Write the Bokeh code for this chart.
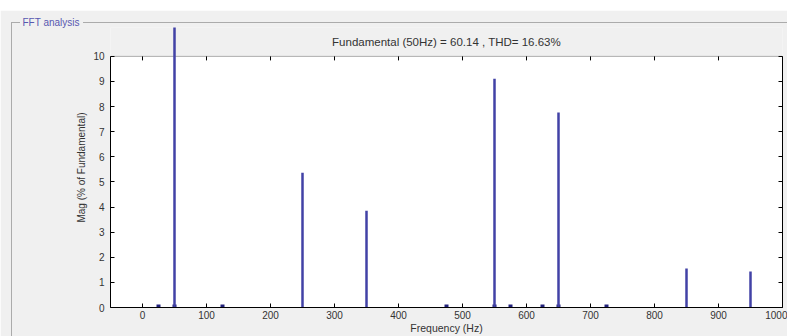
from bokeh.plotting import figure
from bokeh.models import Range1d, LinearAxis, FixedTicker, BoxAnnotation, Label, InlineStyleSheet
from bokeh.embed import file_html
from bokeh.resources import INLINE

# ---- data ----
freq_main = [50, 250, 350, 550, 650, 850, 950]
mag_main = [100.0, 5.37, 3.85, 9.11, 7.77, 1.55, 1.43]
freq_small = [25, 50, 125, 475, 550, 575, 625, 650, 725]
mag_small = [0.12, 0.12, 0.12, 0.12, 0.12, 0.12, 0.12, 0.12, 0.12]
x_ticks = [0, 100, 200, 300, 400, 500, 600, 700, 800, 900, 1000]
y_ticks = [0, 1, 2, 3, 4, 5, 6, 7, 8, 9, 10]
title_text = "Fundamental (50Hz) = 60.14 , THD= 16.63%"
panel_text = "FFT analysis"
x_label = "Frequency (Hz)"
y_label = "Mag (% of Fundamental)"

GRAY = "#f0f0f0"
BAR = "#4242a6"
FONT = "Liberation Sans"
TXT = "#333333"

css = """
:host { position: relative; }
:host::before { content: ""; position: absolute; left: 11px; top: 12px; width: 8px; bottom: 0;
  border-top: 1px solid #ababab; border-left: 1px solid #ababab; z-index: 5; pointer-events: none; }
:host::after { content: ""; position: absolute; left: 83px; top: 12px; right: 0; height: 0;
  border-top: 1px solid #ababab; z-index: 5; pointer-events: none; }
"""

p = figure(width=787, height=326, x_range=Range1d(-50, 1000), y_range=Range1d(0, 11.15),
           output_backend="svg", toolbar_location=None,
           min_border_left=110, min_border_right=5, min_border_top=17, min_border_bottom=28)
p.margin = (10, 0, 0, 0)
p.stylesheets = [InlineStyleSheet(css=css)]
p.border_fill_color = GRAY
p.background_fill_color = GRAY
p.outline_line_color = None
p.grid.visible = False

# group-box caption
p.title.text = panel_text
p.title.align = "left"
p.title.offset = -88
p.title.standoff = 0
p.title.text_font = FONT
p.title.text_font_size = "10px"
p.title.text_font_style = "normal"
p.title.text_color = "#5858b0"

# white plot box from 0..10
p.add_layout(BoxAnnotation(left=-50, right=1000, bottom=0, top=10, fill_color="white",
                           fill_alpha=1, line_color="black", line_width=1, level="underlay"))

# axes
xa = p.xaxis[0]
xa.ticker = FixedTicker(ticks=x_ticks)
xa.minor_tick_line_color = None
xa.major_tick_in = 4
xa.major_tick_out = 0
xa.major_label_standoff = 3
xa.axis_label = x_label
xa.axis_label_standoff = 0
xa.axis_label_text_font = FONT
xa.axis_label_text_font_style = "normal"
xa.axis_label_text_font_size = "10.5px"
xa.axis_label_text_color = TXT
xa.major_label_text_font = FONT
xa.major_label_text_font_size = "10px"
xa.major_label_text_color = TXT

ya = p.yaxis[0]
ya.ticker = FixedTicker(ticks=y_ticks)
ya.bounds = (0, 10)
ya.minor_tick_line_color = None
ya.major_tick_in = 4
ya.major_tick_out = 0
ya.major_label_standoff = 6
ya.axis_label = y_label
ya.axis_label_standoff = 3
ya.axis_label_text_font = FONT
ya.axis_label_text_font_style = "normal"
ya.axis_label_text_font_size = "10px"
ya.axis_label_text_color = TXT
ya.major_label_text_font = FONT
ya.major_label_text_font_size = "10px"
ya.major_label_text_color = TXT

ra = LinearAxis(ticker=FixedTicker(ticks=y_ticks), bounds=(0, 10),
                major_label_overrides={t: "" for t in y_ticks},
                major_tick_in=4, major_tick_out=0, minor_tick_line_color=None, major_label_standoff=0)
p.add_layout(ra, "right")

# top ticks on the box edge
p.segment(x0=x_ticks, y0=[y_ticks[-1]] * len(x_ticks), x1=x_ticks,
          y1=[y_ticks[-1] - 0.16] * len(x_ticks), line_color="black", line_width=1)

# spectrum bars
p.segment(x0=freq_small, y0=[0] * len(freq_small), x1=freq_small, y1=mag_small,
          line_color="#20207a", line_width=4)
p.segment(x0=freq_main, y0=[0] * len(freq_main), x1=freq_main, y1=mag_main,
          line_color=BAR, line_width=2.5)

# chart title
p.add_layout(Label(x=475, y=10.56, text=title_text, text_align="center", text_baseline="middle",
                   text_font=FONT, text_font_size="11.5px", text_color=TXT))

open("out.html", "w").write(file_html(p, INLINE))
